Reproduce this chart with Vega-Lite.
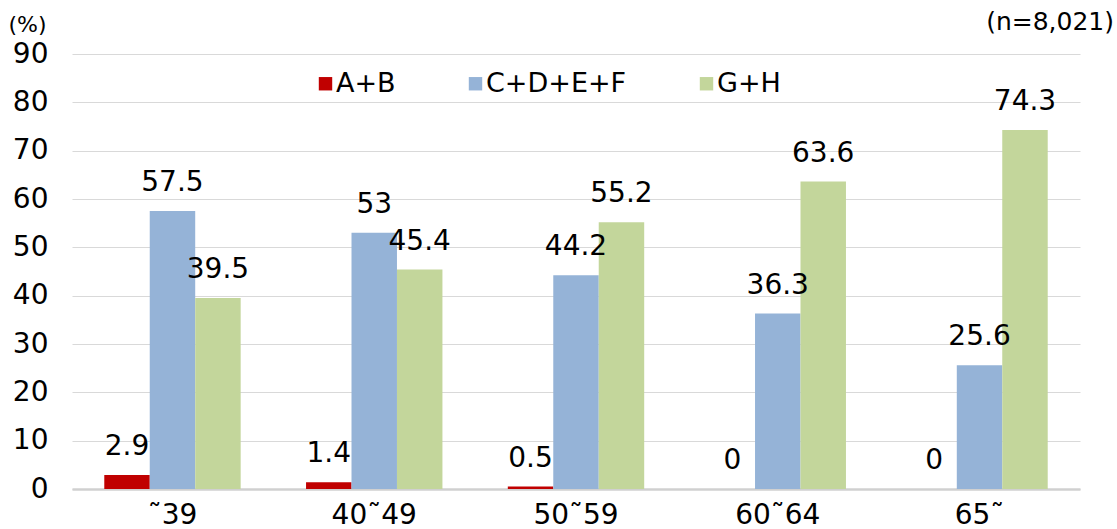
{
  "$schema": "https://vega.github.io/schema/vega-lite/v6.json",
  "autosize": {"type": "none"},
  "padding": {"left": 72, "top": 54, "right": 37, "bottom": 40},
  "width": 1008,
  "height": 435,
  "background": "white",
  "config": {
    "font": "DejaVu Sans",
    "view": {"stroke": null}
  },
  "title": {
    "text": "(n=8,021)",
    "anchor": "end",
    "frame": "group",
    "fontSize": 25,
    "fontWeight": "normal",
    "color": "#000000",
    "dx": 34,
    "dy": 40,
    "offset": 18
  },
  "data": {
    "values": [
      {"age": "˜39", "group": "A+B", "value": 2.9},
      {"age": "˜39", "group": "C+D+E+F", "value": 57.5},
      {"age": "˜39", "group": "G+H", "value": 39.5},
      {"age": "40˜49", "group": "A+B", "value": 1.4},
      {"age": "40˜49", "group": "C+D+E+F", "value": 53},
      {"age": "40˜49", "group": "G+H", "value": 45.4},
      {"age": "50˜59", "group": "A+B", "value": 0.5},
      {"age": "50˜59", "group": "C+D+E+F", "value": 44.2},
      {"age": "50˜59", "group": "G+H", "value": 55.2},
      {"age": "60˜64", "group": "A+B", "value": 0},
      {"age": "60˜64", "group": "C+D+E+F", "value": 36.3},
      {"age": "60˜64", "group": "G+H", "value": 63.6},
      {"age": "65˜", "group": "A+B", "value": 0},
      {"age": "65˜", "group": "C+D+E+F", "value": 25.6},
      {"age": "65˜", "group": "G+H", "value": 74.3}
    ]
  },
  "encoding": {
    "x": {
      "field": "age", "type": "nominal", "sort": null,
      "scale": {"paddingInner": 0.324, "paddingOuter": 0.16},
      "axis": {
        "title": null, "labelAngle": 0, "labelFontSize": 28, "labelColor": "#000000",
        "ticks": false, "labelPadding": 12, "domainColor": "#d0d0d0", "domainWidth": 2.5
      }
    },
    "xOffset": {"field": "group", "type": "nominal", "sort": ["A+B", "C+D+E+F", "G+H"], "scale": {"paddingInner": 0, "paddingOuter": 0}},
    "y": {
      "field": "value", "type": "quantitative",
      "scale": {"domain": [0, 90], "nice": false},
      "axis": {
        "values": [0, 10, 20, 30, 40, 50, 60, 70, 80, 90],
        "title": "(%)", "titleAngle": 0, "titleFontSize": 22, "titleFontWeight": "normal",
        "titleColor": "#000000", "titleAlign": "left", "titleBaseline": "middle",
        "titleX": -64, "titleY": -30,
        "labelFontSize": 28, "labelColor": "#000000", "labelPadding": 24,
        "ticks": false, "domain": false, "gridColor": "#d9d9d9", "gridWidth": 1
      }
    }
  },
  "layer": [
    {
      "mark": {"type": "bar"},
      "encoding": {
        "color": {
          "field": "group", "type": "nominal",
          "sort": ["A+B", "C+D+E+F", "G+H"],
          "scale": {"domain": ["A+B", "C+D+E+F", "G+H"], "range": ["#C00000", "#95B3D7", "#C3D69B"]},
          "legend": {
            "title": null, "orient": "none", "direction": "horizontal",
            "legendX": 240, "legendY": 16, "columns": 3, "columnPadding": 66,
            "symbolType": "square", "symbolSize": 180, "symbolStrokeWidth": 0,
            "labelFontSize": 27, "labelColor": "#000000", "labelOffset": -3, "labelLimit": 300
          }
        }
      }
    },
    {
      "mark": {"type": "text", "fontSize": 28, "color": "#000000", "baseline": "alphabetic", "dy": -20},
      "encoding": {
        "text": {"field": "value", "type": "nominal"}
      }
    }
  ]
}
